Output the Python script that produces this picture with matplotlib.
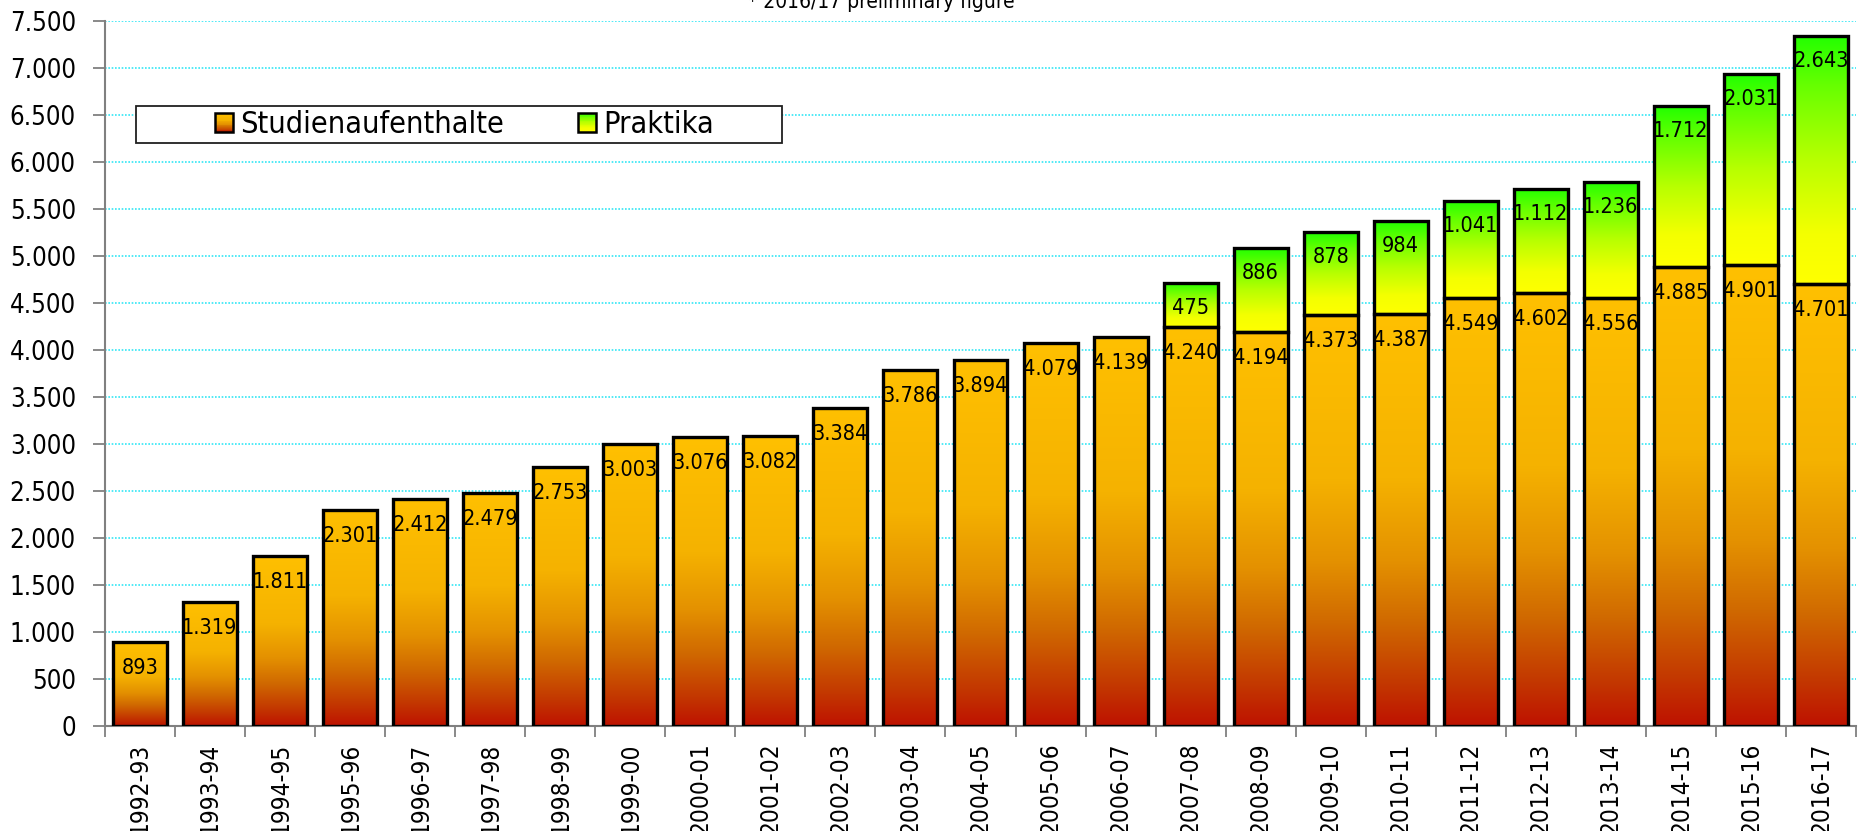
import numpy as np
import matplotlib
matplotlib.use('Agg')
import matplotlib.pyplot as plt
from matplotlib import font_manager as fm
from matplotlib.colors import LinearSegmentedColormap
from matplotlib.patches import Rectangle
from matplotlib.legend_handler import HandlerBase
from matplotlib.ticker import FuncFormatter, FixedLocator

# ---------------- data ----------------
years = ["1992-93", "1993-94", "1994-95", "1995-96", "1996-97", "1997-98", "1998-99",
         "1999-00", "2000-01", "2001-02", "2002-03", "2003-04", "2004-05", "2005-06",
         "2006-07", "2007-08", "2008-09", "2009-10", "2010-11", "2011-12", "2012-13",
         "2013-14", "2014-15", "2015-16", "2016-17"]
studien = [893, 1319, 1811, 2301, 2412, 2479, 2753, 3003, 3076, 3082, 3384, 3786, 3894,
           4079, 4139, 4240, 4194, 4373, 4387, 4549, 4602, 4556, 4885, 4901, 4701]
praktika = [0, 0, 0, 0, 0, 0, 0, 0, 0, 0, 0, 0, 0, 0, 0,
            475, 886, 878, 984, 1041, 1112, 1236, 1712, 2031, 2643]
y_ticks = list(range(0, 7501, 500))
series_names = ["Studienaufenthalte", "Praktika"]
note = "* 2016/17 preliminary figure"

# ---------------- fonts ----------------
FP = fm.FontProperties(family='DejaVu Sans', stretch='condensed')

def fp(size):
    p = FP.copy()
    p.set_size(size)
    return p

# ---------------- colours ----------------
cmap_stud = LinearSegmentedColormap.from_list('stud', [
    (0.0, (190/255, 18/255, 0)), (0.1, (195/255, 55/255, 0)),
    (0.25, (208/255, 105/255, 0)), (0.4, (228/255, 145/255, 0)),
    (0.6, (245/255, 178/255, 0)), (1.0, (1.0, 192/255, 0))])
cmap_prak = LinearSegmentedColormap.from_list('prak', [
    (0.0, (1.0, 1.0, 0)), (0.2, (244/255, 1.0, 0)), (0.5, (184/255, 1.0, 0)),
    (0.8, (102/255, 1.0, 0)), (1.0, (34/255, 1.0, 0))])

W, H = 1859, 831
fig = plt.figure(figsize=(W/100, H/100), dpi=100)
ax = fig.add_axes([105/W, 1 - 726/H, (1856-105)/W, (726-21)/H])

x = np.arange(len(years))
bw = 0.77
grad = np.linspace(0, 1, 256).reshape(-1, 1)

def grad_fill(x0, x1, y0, y1, cmap):
    ax.imshow(grad, extent=(x0, x1, y0, y1), origin='lower', aspect='auto',
              cmap=cmap, interpolation='bilinear', zorder=2)

for xi, s, p in zip(x, studien, praktika):
    grad_fill(xi - bw/2, xi + bw/2, 0, s, cmap_stud)
    if p > 0:
        grad_fill(xi - bw/2, xi + bw/2, s, s + p, cmap_prak)

ax.bar(x, studien, width=bw, fill=False, edgecolor='black', linewidth=2.4, zorder=3)
pk_idx = [i for i, p in enumerate(praktika) if p > 0]
ax.bar([x[i] for i in pk_idx], [praktika[i] for i in pk_idx],
       bottom=[studien[i] for i in pk_idx], width=bw, fill=False,
       edgecolor='black', linewidth=2.4, zorder=3)

def fmt(v):
    return f"{int(v):,}".replace(",", ".")

for xi, s, p in zip(x, studien, praktika):
    ax.annotate(fmt(s), (xi, s), xytext=(0, -26), textcoords='offset pixels',
                ha='center', va='center', fontproperties=fp(15.5), zorder=4)
    if p > 0:
        ax.annotate(fmt(p), (xi, s + p), xytext=(0, -25), textcoords='offset pixels',
                    ha='center', va='center', fontproperties=fp(15.5), zorder=4)

ax.set_xlim(-0.5, len(years) - 0.5)
ax.set_ylim(0, 7500)

ax.yaxis.set_major_locator(FixedLocator(y_ticks))
ax.yaxis.set_major_formatter(FuncFormatter(lambda v, _: fmt(v)))
for lab in ax.get_yticklabels():
    lab.set_fontproperties(fp(18.5))
ax.tick_params(axis='y', length=9, width=1.3, color='#808080', pad=12)

ax.xaxis.set_major_locator(FixedLocator(np.arange(-0.5, len(years), 1.0)))
ax.xaxis.set_major_formatter(FuncFormatter(lambda v, _: ""))
ax.set_xticks(x, minor=True)
ax.set_xticklabels(years, minor=True, rotation=90, fontproperties=fp(17.5))
ax.tick_params(axis='x', which='major', length=8, width=1.3, color='#808080')
ax.tick_params(axis='x', which='minor', length=0, pad=12)

for sp in ['top', 'right']:
    ax.spines[sp].set_visible(False)
for sp in ['left', 'bottom']:
    ax.spines[sp].set_color('#808080')
    ax.spines[sp].set_linewidth(1.5)

ax.set_axisbelow(True)
ax.yaxis.grid(True, color='#33e6f5', linestyle=(0, (1, 1)), linewidth=1.2, zorder=0)

# ---------------- legend ----------------
class GradHandler(HandlerBase):
    def __init__(self, cmap):
        super().__init__()
        self.cmap = cmap

    def create_artists(self, legend, orig_handle, xdescent, ydescent, width, height,
                       fontsize, trans):
        n = 24
        x0, y0 = -xdescent, -ydescent
        arts = []
        for i in range(n):
            arts.append(Rectangle((x0, y0 + i * height / n), width, height / n + 0.01,
                                  facecolor=self.cmap((i + 0.5) / n), edgecolor='none',
                                  transform=trans))
        arts.append(Rectangle((x0, y0), width, height, fill=False, edgecolor='black',
                              linewidth=1.8, transform=trans))
        return arts

h1 = Rectangle((0, 0), 1, 1)
h2 = Rectangle((0, 0), 1, 1)
frame = Rectangle((136/W, 1 - 143/H), 646/W, 37/H, transform=fig.transFigure,
                  facecolor='white', edgecolor='#202020', linewidth=1.3, zorder=1)
fig.patches.append(frame)
leg = fig.legend([h1, h2], series_names,
                 handler_map={h1: GradHandler(cmap_stud), h2: GradHandler(cmap_prak)},
                 loc='center', bbox_to_anchor=(464.5/W, 1 - 124.5/H), ncol=2,
                 frameon=False, prop=fp(22), handlelength=0.6, handleheight=0.6,
                 handletextpad=0.25, columnspacing=2.4, borderpad=0, borderaxespad=0)

fig.text(748/W, 1 - 8/H, note, ha='left', va='baseline', fontproperties=fp(15))

fig.savefig('out.png', dpi=100)
